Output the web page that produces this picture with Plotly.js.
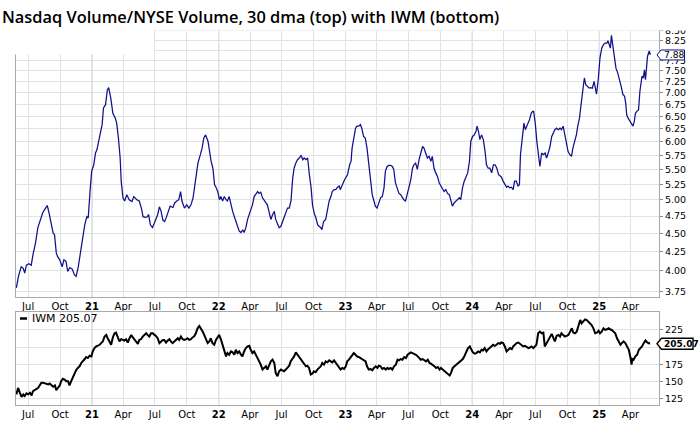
<!DOCTYPE html>
<html>
<head>
<meta charset="utf-8">
<script src="https://cdn.plot.ly/plotly-3.0.1.min.js"></script>
<style>html,body{margin:0;padding:0;background:#fff;}#chart{width:700px;height:421px;}</style>
</head>
<body>
<div id="chart"></div>
<script>
// ---- Top panel: Nasdaq Volume / NYSE Volume, 30 dma ----
const topDates = [
"2020-05-28","2020-06-03","2020-06-11","2020-06-17","2020-06-21","2020-06-26","2020-07-03","2020-07-10","2020-07-15","2020-07-22",
"2020-07-29","2020-08-05","2020-08-12","2020-08-20","2020-08-25","2020-08-30","2020-09-06","2020-09-11","2020-09-15","2020-09-20",
"2020-09-24","2020-09-30","2020-10-07","2020-10-12","2020-10-18","2020-10-23","2020-10-29","2020-11-05","2020-11-11","2020-11-16",
"2020-11-22","2020-11-28","2020-12-05","2020-12-11","2020-12-17","2020-12-21","2020-12-27","2020-12-31","2021-01-06","2021-01-11",
"2021-01-15","2021-01-23","2021-01-30","2021-02-03","2021-02-09","2021-02-14","2021-02-18","2021-02-24","2021-03-02","2021-03-09",
"2021-03-13","2021-03-18","2021-03-23","2021-03-26","2021-03-31","2021-04-05","2021-04-11","2021-04-18","2021-04-26","2021-05-01",
"2021-05-10","2021-05-17","2021-05-23","2021-05-28","2021-06-04","2021-06-09","2021-06-13","2021-06-18","2021-06-24","2021-06-30",
"2021-07-05","2021-07-09","2021-07-14","2021-07-19","2021-07-24","2021-07-29","2021-08-03","2021-08-10","2021-08-14","2021-08-22",
"2021-08-27","2021-09-02","2021-09-08","2021-09-13","2021-09-17","2021-09-24","2021-10-01","2021-10-07","2021-10-13","2021-10-19",
"2021-10-23","2021-10-28","2021-11-02","2021-11-09","2021-11-14","2021-11-19","2021-11-24","2021-12-01","2021-12-05","2021-12-10",
"2021-12-15","2021-12-20","2021-12-24","2021-12-29","2022-01-03","2022-01-07","2022-01-12","2022-01-17","2022-01-22","2022-01-26",
"2022-01-31","2022-02-05","2022-02-10","2022-02-15","2022-02-19","2022-02-24","2022-03-01","2022-03-06","2022-03-11","2022-03-15",
"2022-03-20","2022-03-25","2022-03-30","2022-04-04","2022-04-08","2022-04-13","2022-04-18","2022-04-23","2022-04-27","2022-05-02",
"2022-05-07","2022-05-12","2022-05-17","2022-05-21","2022-05-26","2022-05-31","2022-06-05","2022-06-10","2022-06-14","2022-06-19",
"2022-06-24","2022-06-29","2022-07-04","2022-07-09","2022-07-13","2022-07-18","2022-07-23","2022-07-28","2022-08-02","2022-08-06",
"2022-08-11","2022-08-16","2022-08-21","2022-08-26","2022-08-31","2022-09-04","2022-09-09","2022-09-14","2022-09-19","2022-09-24",
"2022-09-28","2022-10-03","2022-10-08","2022-10-13","2022-10-17","2022-10-22","2022-10-25","2022-10-30","2022-11-05","2022-11-10",
"2022-11-15","2022-11-20","2022-11-24","2022-11-29","2022-12-04","2022-12-09","2022-12-14","2022-12-17","2022-12-22","2022-12-29",
"2023-01-04","2023-01-07","2023-01-13","2023-01-17","2023-01-20","2023-01-25","2023-01-30","2023-02-03","2023-02-08","2023-02-13",
"2023-02-17","2023-02-22","2023-02-27","2023-03-04","2023-03-09","2023-03-14","2023-03-19","2023-03-24","2023-03-28","2023-04-02",
"2023-04-07","2023-04-12","2023-04-17","2023-04-22","2023-04-26","2023-05-01","2023-05-06","2023-05-11","2023-05-16","2023-05-20",
"2023-05-25","2023-05-30","2023-06-04","2023-06-09","2023-06-14","2023-06-18","2023-06-23","2023-06-28","2023-07-03","2023-07-08",
"2023-07-13","2023-07-17","2023-07-22","2023-07-27","2023-08-01","2023-08-06","2023-08-11","2023-08-15","2023-08-20","2023-08-25",
"2023-08-30","2023-09-04","2023-09-08","2023-09-13","2023-09-18","2023-09-23","2023-09-28","2023-10-03","2023-10-07","2023-10-12",
"2023-10-17","2023-10-22","2023-10-27","2023-11-01","2023-11-05","2023-11-10","2023-11-15","2023-11-20","2023-11-25","2023-11-29",
"2023-12-04","2023-12-09","2023-12-14","2023-12-19","2023-12-24","2023-12-28","2024-01-02","2024-01-07","2024-01-12","2024-01-15",
"2024-01-19","2024-01-23","2024-01-28","2024-02-02","2024-02-07","2024-02-11","2024-02-16","2024-02-21","2024-02-26","2024-03-02",
"2024-03-07","2024-03-12","2024-03-17","2024-03-25","2024-03-30","2024-04-04","2024-04-09","2024-04-13","2024-04-18","2024-04-23",
"2024-04-28","2024-05-02","2024-05-07","2024-05-12","2024-05-16","2024-05-19","2024-05-24","2024-05-29","2024-06-02","2024-06-07",
"2024-06-14","2024-06-19","2024-06-23","2024-06-26","2024-07-01","2024-07-05","2024-07-10","2024-07-14","2024-07-19","2024-07-24",
"2024-07-29","2024-08-02","2024-08-07","2024-08-12","2024-08-17","2024-08-21","2024-08-26","2024-08-31","2024-09-05","2024-09-10",
"2024-09-14","2024-09-19","2024-09-24","2024-09-29","2024-10-03","2024-10-08","2024-10-13","2024-10-17","2024-10-22","2024-10-27",
"2024-10-31","2024-11-05","2024-11-09","2024-11-14","2024-11-19","2024-11-23","2024-11-28","2024-12-03","2024-12-07","2024-12-12",
"2024-12-17","2024-12-21","2024-12-24","2024-12-29","2025-01-03","2025-01-08","2025-01-13","2025-01-18","2025-01-23","2025-01-26",
"2025-01-30","2025-02-02","2025-02-05","2025-02-09","2025-02-14","2025-02-18","2025-02-23","2025-02-28","2025-03-05","2025-03-10",
"2025-03-15","2025-03-18","2025-03-21","2025-03-25","2025-03-28","2025-04-02","2025-04-05","2025-04-08","2025-04-12","2025-04-15",
"2025-04-19","2025-04-24","2025-04-28","2025-05-01","2025-05-04","2025-05-08","2025-05-11","2025-05-14","2025-05-17","2025-05-20",
"2025-05-25","2025-05-28"
];
const topValues = [
3.79,3.93,4.05,4.03,3.97,4.07,4.09,4.07,4.21,4.36,
4.58,4.69,4.80,4.87,4.91,4.80,4.62,4.50,4.48,4.23,
4.18,4.14,4.05,4.14,4.12,3.99,4.04,4.02,3.95,3.93,
4.04,4.21,4.39,4.62,4.74,4.72,5.19,5.47,5.58,5.79,
5.85,6.07,6.33,6.67,6.74,7.06,7.11,6.88,6.56,6.46,
6.36,6.07,5.70,5.30,5.03,4.98,5.08,5.00,4.97,5.05,
5.00,4.98,4.87,4.74,4.73,4.74,4.77,4.62,4.58,4.65,
4.72,4.77,4.89,4.82,4.69,4.67,4.73,4.85,4.90,4.88,
4.95,4.98,5.00,5.13,4.98,4.87,4.92,4.87,4.92,5.03,
5.19,5.47,5.61,5.76,5.88,6.07,6.13,6.01,5.82,5.64,
5.52,5.24,5.20,5.13,5.00,5.05,4.98,5.05,5.00,4.98,
5.05,4.92,4.82,4.74,4.67,4.58,4.53,4.51,4.55,4.51,
4.58,4.70,4.77,4.85,4.92,5.05,5.10,5.13,5.10,5.12,
5.03,4.98,4.95,4.92,4.82,4.70,4.77,4.82,4.70,4.65,
4.58,4.60,4.67,4.74,4.82,4.87,4.87,4.98,5.35,5.52,
5.61,5.67,5.70,5.75,5.67,5.70,5.67,5.70,5.41,5.19,
4.92,4.79,4.72,4.62,4.60,4.58,4.55,4.67,4.70,4.85,
4.98,5.05,5.13,5.16,5.16,5.20,5.22,5.16,5.24,5.32,
5.38,5.41,5.58,5.64,5.88,6.07,6.26,6.30,6.30,6.33,
6.26,6.10,6.07,5.88,5.58,5.32,5.08,4.98,4.90,4.87,
4.95,5.03,5.05,5.19,5.47,5.55,5.57,5.57,5.55,5.50,
5.27,5.16,5.10,5.08,5.03,5.00,4.98,5.08,5.22,5.32,
5.52,5.58,5.61,5.50,5.67,5.79,5.91,5.88,5.79,5.70,
5.73,5.64,5.73,5.52,5.44,5.38,5.27,5.21,5.19,5.13,
5.16,5.10,5.08,4.98,4.90,4.95,4.98,5.00,5.03,5.00,
5.19,5.30,5.38,5.44,5.64,6.01,6.10,6.13,6.20,6.30,
6.20,6.04,6.13,6.04,5.82,5.58,5.52,5.52,5.44,5.58,
5.58,5.52,5.41,5.37,5.30,5.24,5.20,5.22,5.19,5.20,
5.16,5.30,5.30,5.22,5.24,5.76,6.13,6.36,6.23,6.30,
6.43,6.56,6.60,6.60,6.33,6.01,5.73,5.55,5.79,5.76,
5.79,5.70,5.79,5.91,6.10,6.16,6.23,6.26,6.23,6.26,
6.23,6.30,6.13,5.94,5.82,5.76,5.73,5.88,6.01,6.13,
6.30,6.46,6.71,7.03,7.33,7.18,7.14,7.10,7.11,7.10,
7.25,7.10,6.97,7.29,7.81,8.05,8.14,8.18,8.18,8.24,
8.14,8.05,8.38,8.10,7.89,7.56,7.45,7.25,7.14,6.96,
6.92,6.78,6.53,6.46,6.43,6.36,6.33,6.30,6.40,6.56,
6.60,6.63,7.03,7.25,7.37,7.33,7.52,7.29,7.72,7.85,
7.98,7.88
];

// ---- Bottom panel: IWM ----
const iwmDates = [
"2020-05-28","2020-06-02","2020-06-07","2020-06-12","2020-06-17","2020-06-21","2020-06-26","2020-07-01","2020-07-06","2020-07-11",
"2020-07-15","2020-07-20","2020-07-25","2020-07-30","2020-08-03","2020-08-08","2020-08-13","2020-08-18","2020-08-23","2020-08-28",
"2020-09-01","2020-09-06","2020-09-11","2020-09-16","2020-09-20","2020-09-25","2020-09-30","2020-10-04","2020-10-09","2020-10-14",
"2020-10-19","2020-10-24","2020-10-28","2020-11-02","2020-11-07","2020-11-12","2020-11-16","2020-11-21","2020-11-26","2020-12-01",
"2020-12-06","2020-12-11","2020-12-15","2020-12-20","2020-12-25","2020-12-30","2021-01-03","2021-01-08","2021-01-13","2021-01-18",
"2021-01-23","2021-01-27","2021-02-01","2021-02-06","2021-02-11","2021-02-15","2021-02-20","2021-02-25","2021-03-02","2021-03-07",
"2021-03-11","2021-03-16","2021-03-21","2021-03-26","2021-03-31","2021-04-04","2021-04-09","2021-04-14","2021-04-19","2021-04-24",
"2021-04-28","2021-05-03","2021-05-08","2021-05-13","2021-05-17","2021-05-22","2021-05-27","2021-06-01","2021-06-06","2021-06-10",
"2021-06-15","2021-06-20","2021-06-25","2021-06-30","2021-07-04","2021-07-09","2021-07-14","2021-07-19","2021-07-24","2021-07-28",
"2021-08-02","2021-08-07","2021-08-12","2021-08-16","2021-08-21","2021-08-26","2021-08-31","2021-09-05","2021-09-09","2021-09-14",
"2021-09-19","2021-09-24","2021-09-29","2021-10-03","2021-10-08","2021-10-13","2021-10-18","2021-10-22","2021-10-27","2021-11-01",
"2021-11-06","2021-11-11","2021-11-16","2021-11-20","2021-11-25","2021-11-30","2021-12-05","2021-12-09","2021-12-14","2021-12-19",
"2021-12-24","2021-12-29","2022-01-02","2022-01-07","2022-01-12","2022-01-17","2022-01-22","2022-01-26","2022-01-31","2022-02-05",
"2022-02-10","2022-02-15","2022-02-19","2022-02-24","2022-03-01","2022-03-06","2022-03-10","2022-03-15","2022-03-20","2022-03-25",
"2022-03-30","2022-04-03","2022-04-08","2022-04-13","2022-04-18","2022-04-23","2022-04-27","2022-05-02","2022-05-07","2022-05-12",
"2022-05-17","2022-05-21","2022-05-26","2022-05-31","2022-06-05","2022-06-10","2022-06-14","2022-06-19","2022-06-24","2022-06-29",
"2022-07-03","2022-07-08","2022-07-13","2022-07-18","2022-07-23","2022-07-27","2022-08-01","2022-08-06","2022-08-11","2022-08-16",
"2022-08-20","2022-08-25","2022-08-30","2022-09-04","2022-09-09","2022-09-13","2022-09-18","2022-09-23","2022-09-28","2022-10-02",
"2022-10-07","2022-10-12","2022-10-17","2022-10-22","2022-10-26","2022-10-31","2022-11-05","2022-11-10","2022-11-15","2022-11-19",
"2022-11-24","2022-11-29","2022-12-04","2022-12-09","2022-12-13","2022-12-18","2022-12-23","2022-12-28","2023-01-02","2023-01-06",
"2023-01-11","2023-01-15","2023-01-20","2023-01-25","2023-01-30","2023-02-03","2023-02-08","2023-02-13","2023-02-18","2023-02-23",
"2023-02-28","2023-03-04","2023-03-09","2023-03-14","2023-03-19","2023-03-24","2023-03-29","2023-04-03","2023-04-07","2023-04-12",
"2023-04-17","2023-04-22","2023-04-27","2023-05-02","2023-05-06","2023-05-11","2023-05-16","2023-05-21","2023-05-26","2023-05-31",
"2023-06-04","2023-06-09","2023-06-14","2023-06-19","2023-06-24","2023-06-29","2023-07-03","2023-07-08","2023-07-13","2023-07-18",
"2023-07-23","2023-07-28","2023-08-02","2023-08-06","2023-08-11","2023-08-16","2023-08-21","2023-08-26","2023-08-31","2023-09-04",
"2023-09-09","2023-09-14","2023-09-19","2023-09-24","2023-09-29","2023-10-03","2023-10-08","2023-10-13","2023-10-18","2023-10-23",
"2023-10-28","2023-11-01","2023-11-06","2023-11-11","2023-11-16","2023-11-21","2023-11-26","2023-12-01","2023-12-05","2023-12-10",
"2023-12-15","2023-12-20","2023-12-25","2023-12-30","2024-01-03","2024-01-08","2024-01-13","2024-01-18","2024-01-23","2024-01-28",
"2024-02-01","2024-02-06","2024-02-11","2024-02-16","2024-02-21","2024-02-25","2024-03-01","2024-03-06","2024-03-11","2024-03-16",
"2024-03-21","2024-03-25","2024-03-30","2024-04-04","2024-04-09","2024-04-14","2024-04-19","2024-04-24","2024-04-28","2024-05-03",
"2024-05-08","2024-05-13","2024-05-18","2024-05-23","2024-05-27","2024-06-01","2024-06-06","2024-06-11","2024-06-15","2024-06-20",
"2024-06-25","2024-06-30","2024-07-04","2024-07-09","2024-07-14","2024-07-19","2024-07-24","2024-07-28","2024-08-02","2024-08-07",
"2024-08-12","2024-08-17","2024-08-22","2024-08-26","2024-08-31","2024-09-05","2024-09-10","2024-09-14","2024-09-19","2024-09-24",
"2024-09-29","2024-10-04","2024-10-09","2024-10-14","2024-10-18","2024-10-23","2024-10-28","2024-11-02","2024-11-07","2024-11-11",
"2024-11-16","2024-11-21","2024-11-26","2024-12-01","2024-12-05","2024-12-10","2024-12-15","2024-12-20","2024-12-25","2024-12-30",
"2025-01-03","2025-01-08","2025-01-13","2025-01-18","2025-01-23","2025-01-28","2025-02-01","2025-02-06","2025-02-11","2025-02-16",
"2025-02-21","2025-02-26","2025-03-03","2025-03-07","2025-03-12","2025-03-17","2025-03-22","2025-03-27","2025-04-01","2025-04-04",
"2025-04-06","2025-04-10","2025-04-15","2025-04-20","2025-04-25","2025-04-30","2025-05-04","2025-05-09","2025-05-14","2025-05-19",
"2025-05-24","2025-05-27"
];
const iwmValues = [
131.7,141.0,134.1,127.9,131.7,129.3,133.1,131.7,134.1,130.3,
136.5,137.9,139.8,141.3,144.6,148.4,148.4,147.5,146.1,146.1,
147.5,144.6,142.7,144.6,137.9,141.3,144.6,150.8,154.2,153.2,
150.8,150.8,144.6,150.8,157.1,161.8,166.6,170.0,172.4,177.2,
179.5,182.9,185.8,184.3,187.7,186.7,193.9,198.7,201.1,202.0,
203.5,205.9,208.3,215.4,217.8,213.0,208.3,203.5,214.5,220.2,
221.2,213.0,208.3,211.6,210.6,209.7,211.6,206.8,213.0,217.8,
214.5,211.6,208.3,204.9,210.6,211.6,215.4,217.8,220.2,217.8,
215.4,220.2,220.2,217.8,216.4,213.0,205.9,208.3,210.6,210.6,
206.8,209.7,211.6,208.3,205.9,208.3,210.6,213.0,210.6,215.4,
211.6,210.6,211.6,213.0,210.6,211.6,214.5,215.4,220.2,227.4,
230.7,227.4,222.6,217.8,210.6,205.9,208.3,213.0,205.9,203.5,
210.6,215.4,217.8,211.6,203.5,193.9,186.7,191.5,189.1,193.9,
192.5,189.1,196.3,191.5,193.9,189.1,186.7,193.9,198.7,201.1,
202.0,196.3,191.5,193.9,189.1,182.9,179.5,174.8,167.6,170.0,
172.4,167.6,174.8,179.5,181.9,177.2,162.8,158.0,165.2,167.6,
166.6,165.2,167.6,170.0,173.3,179.5,182.9,186.7,192.5,189.1,
185.8,182.9,179.5,174.8,172.4,173.3,170.0,160.4,161.8,165.2,
163.8,167.6,170.0,172.4,177.2,174.8,179.5,178.1,181.0,179.5,
178.1,181.0,177.2,174.8,170.0,167.6,170.0,168.5,172.4,179.5,
181.9,184.3,187.7,191.5,189.1,186.7,185.8,184.3,182.9,181.9,
179.5,172.4,167.6,168.5,166.6,170.0,172.4,170.0,173.3,172.4,
168.5,170.0,167.6,170.0,168.5,170.0,167.6,172.4,174.8,181.9,
181.0,182.9,181.9,185.8,184.3,189.1,190.6,192.5,191.5,190.6,
189.1,186.7,184.3,181.9,182.9,181.0,179.5,181.9,177.2,176.2,
174.8,172.4,170.0,171.4,167.6,170.0,167.6,165.2,162.8,160.4,
159.0,162.8,170.0,172.4,174.8,177.2,179.5,181.9,182.9,187.7,
193.9,198.7,201.1,196.3,192.5,190.6,191.5,193.9,192.5,196.3,
195.3,198.7,193.9,197.2,200.1,201.1,203.5,202.0,203.5,205.9,
204.9,206.8,205.9,201.1,193.9,196.3,198.7,197.2,201.1,203.5,
205.9,206.8,204.9,202.0,201.1,202.0,200.1,198.7,199.6,201.1,
198.7,201.1,203.5,220.2,222.6,220.2,221.2,201.1,205.9,210.6,
215.4,219.3,213.0,208.3,216.4,217.8,215.4,220.2,217.8,215.4,
216.4,217.8,222.6,227.4,221.2,220.2,222.6,232.2,239.4,234.6,
237.0,240.3,239.4,237.0,235.5,232.2,227.4,220.2,221.2,224.0,
220.2,222.6,227.4,225.0,226.0,227.4,226.0,225.0,222.6,220.2,
213.0,208.3,203.5,205.9,208.3,205.9,201.1,196.3,184.3,174.8,
182.9,181.9,186.7,189.1,196.3,198.7,201.1,205.9,209.7,206.8,
205.9,205.07
];

// ---- Axis ticks ----
const quarterTicks = [
"2020-07-01","2020-10-01","2021-01-01","2021-04-01","2021-07-01","2021-10-01",
"2022-01-01","2022-04-01","2022-07-01","2022-10-01","2023-01-01","2023-04-01",
"2023-07-01","2023-10-01","2024-01-01","2024-04-01","2024-07-01","2024-10-01",
"2025-01-01","2025-04-01"
];
const quarterLabels = [
"Jul","Oct","<b>21</b>","Apr","Jul","Oct","<b>22</b>","Apr","Jul","Oct",
"<b>23</b>","Apr","Jul","Oct","<b>24</b>","Apr","Jul","Oct","<b>25</b>","Apr"
];
const yearLines = ["2021-01-01","2022-01-01","2023-01-01","2024-01-01","2025-01-01"];
const topTickVals = [3.75,4.00,4.25,4.50,4.75,5.00,5.25,5.50,5.75,6.00,6.25,6.50,6.75,7.00,7.25,7.50,7.75,8.00,8.25,8.50];
// labels hidden behind the current-value tag are left blank
const topTickText = ["3.75","4.00","4.25","4.50","4.75","5.00","5.25","5.50","5.75","6.00","6.25","6.50","6.75","7.00","7.25","7.50","7.75","","8.25","8.50"];
const iwmTickVals = [125,150,175,200,225];
const iwmTickText = ["125","150","175","","225"];

// ---- Layout geometry (pixels) ----
const W = 700, H = 421;
const mL = 16, mR = 41;
const topPanel = [22, 297];
const botPanel = [312, 405];
const fy = p => 1 - p / H;
const pw = W - mL - mR;
const xRange = ["2020-05-27", "2025-06-22"];

const FONT = "'DejaVu Sans', Verdana, sans-serif";
const GRID = "#e2e2e2";
const YEARGRID = "#c4c4c4";
const BORDER = "#a9a9a9";

const topLast = topValues[topValues.length - 1];
const iwmLast = iwmValues[iwmValues.length - 1];

const traces = [
  {x: topDates, y: topValues, xaxis: "x", yaxis: "y", type: "scatter", mode: "lines",
   line: {color: "#10108c", width: 1.25}, hoverinfo: "skip", showlegend: false},
  {x: iwmDates, y: iwmValues, xaxis: "x2", yaxis: "y2", type: "scatter", mode: "lines",
   line: {color: "#000000", width: 2}, hoverinfo: "skip", showlegend: false}
];

const xCommon = {
  type: "date", range: xRange, tickmode: "array", tickvals: quarterTicks, ticktext: quarterLabels,
  showgrid: true, gridcolor: GRID, gridwidth: 1, zeroline: false,
  showline: true, mirror: true, linecolor: BORDER, linewidth: 1,
  ticks: "", tickfont: {family: FONT, size: 10, color: "#000"}, fixedrange: true
};

const shapes = [];
yearLines.forEach(d => {
  shapes.push({type: "line", xref: "x", yref: "y domain", x0: d, x1: d, y0: 0, y1: 1, layer: "below",
               line: {color: YEARGRID, width: 1}});
  shapes.push({type: "line", xref: "x2", yref: "y2 domain", x0: d, x1: d, y0: 0, y1: 1, layer: "below",
               line: {color: YEARGRID, width: 1}});
});
// white title banner across the top
shapes.push({type: "rect", xref: "paper", yref: "paper", x0: -mL / pw, x1: (W - mL) / pw,
             y0: fy(30.5), y1: 1.01, fillcolor: "#ffffff", line: {width: 0}, layer: "above"});
// white legend box in top-left of top panel
shapes.push({type: "rect", xref: "paper", yref: "paper", x0: -1 / pw, x1: (154 - mL) / pw,
             y0: fy(54.5), y1: fy(30), fillcolor: "#ffffff", line: {width: 0}, layer: "above"});
// current-value tags
shapes.push({type: "path", xref: "paper", yref: "y", xsizemode: "pixel", ysizemode: "pixel",
             xanchor: 1, yanchor: topLast, path: "M -2 0 L 2 5 L 25.5 5 L 25.5 -5 L 2 -5 Z",
             fillcolor: "#ffffff", line: {color: "#10108c", width: 1}, layer: "above"});
shapes.push({type: "path", xref: "paper", yref: "y2", xsizemode: "pixel", ysizemode: "pixel",
             xanchor: 1, yanchor: iwmLast, path: "M -2 0 L 2.5 5.5 L 34 5.5 L 34 -5.5 L 2.5 -5.5 Z",
             fillcolor: "#ffffff", line: {color: "#000000", width: 1.4}, layer: "above"});
// IWM legend swatch
shapes.push({type: "line", xref: "paper", yref: "paper", xsizemode: "pixel", xanchor: 0,
             x0: 4, x1: 11, y0: fy(318.5), y1: fy(318.5), line: {color: "#000", width: 2.5}, layer: "above"});

const annotations = [
  {xref: "paper", yref: "y", x: 1, xanchor: "left", xshift: 2.5, y: Math.log10(topLast), yanchor: "middle",
   text: topLast.toFixed(2), showarrow: false, font: {family: FONT, size: 9.2, color: "#000"}},
  {xref: "paper", yref: "y2", x: 1, xanchor: "left", xshift: 3, y: iwmLast, yanchor: "middle",
   text: "<b>" + iwmLast.toFixed(2) + "</b>", showarrow: false, font: {family: FONT, size: 9, color: "#000"}},
  {xref: "paper", yref: "paper", x: 0, xanchor: "left", xshift: 14, y: fy(318.5), yanchor: "middle",
   text: "IWM " + iwmLast.toFixed(2), showarrow: false, font: {family: FONT, size: 11, color: "#000"}}
];

const layout = {
  width: W, height: H,
  margin: {l: mL, r: mR, t: 0, b: 0, pad: 0},
  paper_bgcolor: "#ffffff", plot_bgcolor: "#ffffff",
  showlegend: false,
  title: {text: "Nasdaq Volume/NYSE Volume, 30 dma (top) with IWM (bottom)",
          xref: "container", yref: "container", x: 2 / W, xanchor: "left", y: fy(17), yanchor: "middle",
          font: {family: "'Open Sans', 'Noto Sans', sans-serif", size: 16.4, weight: 600, color: "#000"}},
  xaxis: Object.assign({}, xCommon, {anchor: "y"}),
  xaxis2: Object.assign({}, xCommon, {anchor: "y2", matches: "x"}),
  yaxis: {
    type: "log", domain: [fy(topPanel[1]), fy(topPanel[0])],
    range: [Math.log10(3.683), Math.log10(8.74)],
    side: "right", tickmode: "array", tickvals: topTickVals, ticktext: topTickText,
    showgrid: true, gridcolor: GRID, zeroline: false,
    showline: true, mirror: true, linecolor: BORDER, linewidth: 1,
    ticks: "outside", ticklen: 3, tickcolor: "#8a8a8a",
    tickfont: {family: FONT, size: 9.5, color: "#000"}, fixedrange: true, anchor: "x"
  },
  yaxis2: {
    domain: [fy(botPanel[1]), fy(botPanel[0])],
    range: [116.3, 251],
    side: "right", tickmode: "array", tickvals: iwmTickVals, ticktext: iwmTickText,
    showgrid: true, gridcolor: GRID, zeroline: false,
    showline: true, mirror: true, linecolor: BORDER, linewidth: 1,
    ticks: "outside", ticklen: 3, tickcolor: "#8a8a8a",
    tickfont: {family: FONT, size: 9.5, color: "#000"}, fixedrange: true, anchor: "x2"
  },
  shapes: shapes,
  annotations: annotations
};

Plotly.newPlot("chart", traces, layout, {staticPlot: true, displayModeBar: false});
</script>
</body>
</html>
